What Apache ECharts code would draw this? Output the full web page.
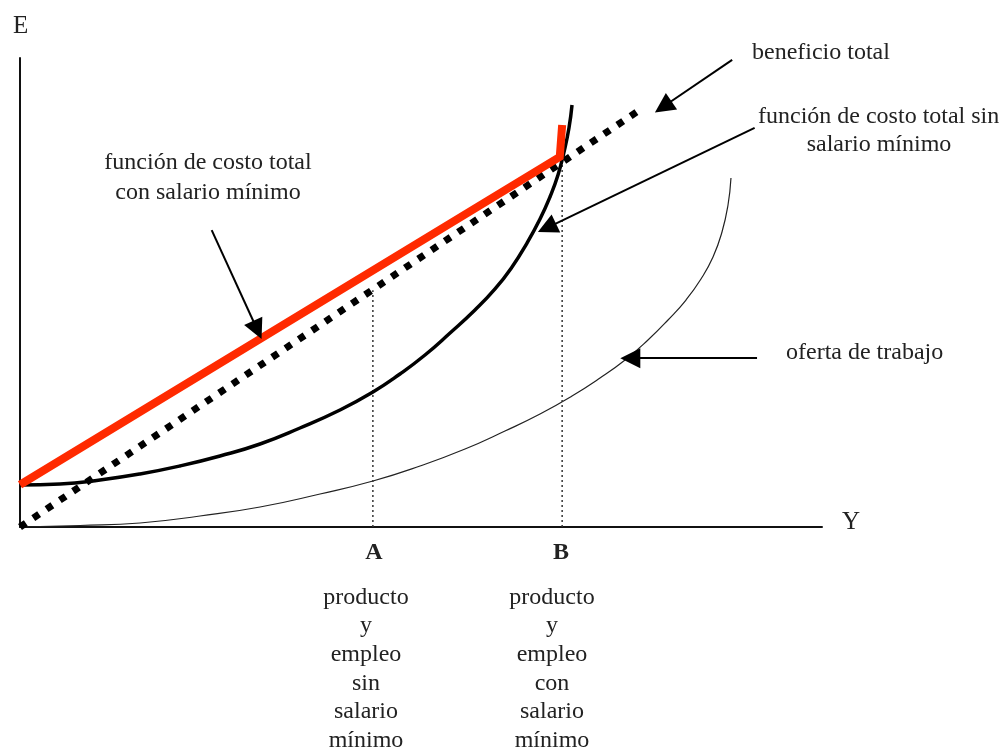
<!DOCTYPE html>
<html>
<head>
<meta charset="utf-8">
<script src="https://cdn.jsdelivr.net/npm/echarts@6/dist/echarts.min.js"></script>
<style>
html,body{margin:0;padding:0;background:#fff;}
#chart{width:1002px;height:749px;}
</style>
</head>
<body>
<div id="chart"></div>
<script>
// Curves (x: 0..100 along Y axis, y: 0..100 along E axis)
const costoConSalario = [[0, 9.0], [67.3, 78.9], [67.6, 85.7]];
const beneficioTotal = [[0, 0], [77.6, 89.3]];
const costoSinSalario = [
  [0, 8.96], [4.99, 9.17], [9.98, 10.02], [14.96, 11.30], [19.95, 13.01],
  [24.94, 15.14], [29.93, 17.70], [34.91, 21.11], [39.90, 24.95], [44.01, 28.78],
  [47.38, 32.62], [50.50, 36.67], [53.62, 41.36], [56.73, 46.27], [59.23, 50.75],
  [61.35, 55.44], [63.22, 60.55], [64.84, 65.67], [66.08, 70.36], [67.08, 75.05],
  [67.83, 79.96], [68.45, 85.07], [68.83, 89.98]
];
const ofertaTrabajo = [
  [0, 0], [7.48, 0.32], [14.96, 0.85], [22.44, 2.35], [29.93, 4.26], [37.41, 7.04],
  [44.01, 9.81], [49.88, 13.01], [55.49, 16.63], [60.47, 20.47], [64.84, 24.09],
  [68.83, 27.93], [72.32, 31.77], [75.44, 35.61], [78.30, 39.87], [80.80, 44.14],
  [83.04, 48.40], [84.91, 52.88], [86.41, 57.57], [87.53, 62.90], [88.28, 68.66],
  [88.65, 74.41]
];
const lineaA = [[44.0, 0], [44.0, 50.5]];
const lineaB = [[67.6, 0], [67.6, 78.3]];
const flechas = [
  [[88.8, 99.6], [80.2, 89.6]],
  [[91.6, 85.1], [65.7, 63.8]],
  [[91.9, 36.0], [76.1, 36.0]],
  [[23.9, 63.3], [29.6, 42.0]]
];
const etiquetaEje = ['E', 'Y'];
const etiquetaPuntos = ['A', 'B'];
const textoA = 'producto\ny\nempleo\nsin\nsalario\nmínimo';
const textoB = 'producto\ny\nempleo\ncon\nsalario\nmínimo';

const FONT = '"Liberation Serif", "Times New Roman", serif';
const chart = echarts.init(document.getElementById('chart'), null, {renderer: 'canvas'});

function txt(text, x, y, size, align, extra) {
  return {
    type: 'text', silent: true,
    style: Object.assign({
      text: text, x: x, y: y, fill: '#222',
      font: size + 'px ' + FONT,
      textAlign: align || 'left', textVerticalAlign: 'middle'
    }, extra || {})
  };
}

chart.setOption({
  animation: false,
  backgroundColor: '#fff',
  grid: {left: 20, top: 58, right: 180, bottom: 222},
  xAxis: {
    type: 'value', min: 0, max: 100,
    axisLine: {show: true, onZero: false, lineStyle: {color: '#111', width: 2}},
    axisTick: {show: false}, axisLabel: {show: false}, splitLine: {show: false}
  },
  yAxis: {
    type: 'value', min: 0, max: 100,
    axisLine: {show: true, onZero: false, lineStyle: {color: '#111', width: 2}},
    axisTick: {show: false}, axisLabel: {show: false}, splitLine: {show: false}
  },
  series: [
    {type: 'line', data: ofertaTrabajo, smooth: 0.5, symbol: 'none',
     lineStyle: {color: '#222', width: 1.2}, z: 2},
    {type: 'line', data: lineaA, symbol: 'none',
     lineStyle: {color: '#333', width: 1.5, type: [2, 3]}, z: 2},
    {type: 'line', data: lineaB, symbol: 'none',
     lineStyle: {color: '#333', width: 1.5, type: [2, 3]}, z: 2},
    {type: 'line', data: costoSinSalario, smooth: 0.5, symbol: 'none',
     lineStyle: {color: '#000', width: 3.5}, z: 3},
    {type: 'line', data: beneficioTotal, symbol: 'none',
     lineStyle: {color: '#000', width: 7, type: [7, 9], cap: 'butt'}, z: 4},
    {type: 'line', data: costoConSalario, symbol: 'none',
     lineStyle: {color: '#ff2a00', width: 8, cap: 'butt', join: 'miter'}, z: 5},
    {type: 'lines', coordinateSystem: 'cartesian2d', polyline: false,
     symbol: ['none', 'triangle'], symbolSize: [0, 20],
     lineStyle: {color: '#000', width: 2, opacity: 1, curveness: 0},
     data: flechas.map(f => ({coords: f})), z: 6}
  ],
  graphic: [
    txt(etiquetaEje[0], 13, 26, 25, 'left'),
    txt(etiquetaEje[1], 842, 522, 25, 'left'),
    txt('beneficio total', 752, 53, 24, 'left'),
    txt('función de costo total sin', 758, 117, 24, 'left'),
    txt('salario mínimo', 879, 145, 24, 'center'),
    txt('función de costo total', 208, 163, 24, 'center'),
    txt('con salario mínimo', 208, 193, 24, 'center'),
    txt('oferta de trabajo', 786, 353, 24, 'left'),
    txt(etiquetaPuntos[0], 374, 553, 24, 'center', {font: 'bold 24px ' + FONT}),
    txt(etiquetaPuntos[1], 561, 553, 24, 'center', {font: 'bold 24px ' + FONT}),
    txt(textoA, 366, 583, 24, 'center', {textVerticalAlign: 'top', lineHeight: 28.7}),
    txt(textoB, 552, 583, 24, 'center', {textVerticalAlign: 'top', lineHeight: 28.7})
  ]
});
</script>
</body>
</html>
